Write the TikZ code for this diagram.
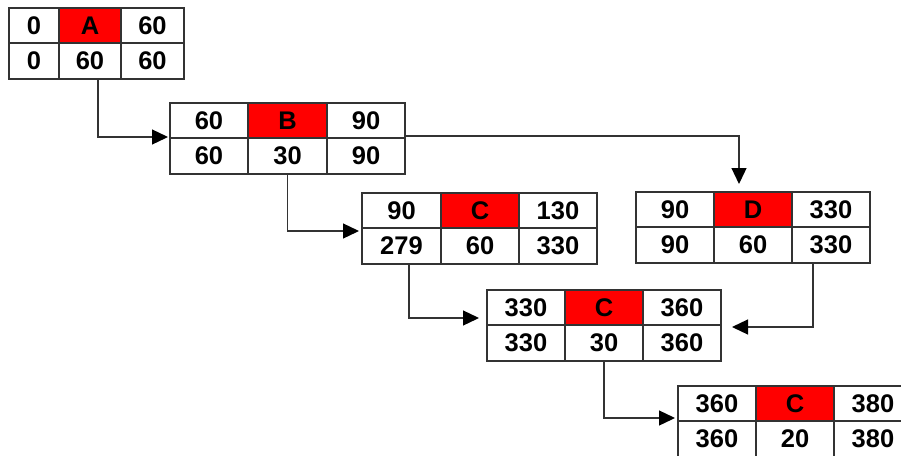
\documentclass[tikz,border=0pt]{standalone}
\usepackage{fontspec}
\setmainfont{Liberation Sans}
\usetikzlibrary{arrows.meta}
\definecolor{linec}{HTML}{333333}
\definecolor{keyred}{HTML}{FF0000}
\tikzset{
  cell/.style={draw=linec, line width=1.3pt, inner sep=0pt, outer sep=0pt,
    anchor=north west, minimum height=35pt,
    font=\bfseries\fontsize{25.5}{25.5}\selectfont},
  lowcell/.style={cell, minimum height=36pt},
  keycell/.style={cell, fill=keyred},
  link/.style={draw=linec, line width=1.3pt,
    -{Triangle[length=16pt,width=15pt,color=black]}},
}
% top row of a block: name, top-left corner, three widths, three entries
\newcommand\blocktop[8]{%
  \node[cell, minimum width=#3pt] (#1-11) at (#2) {#6};
  \node[keycell, minimum width=#4pt] (#1-12) at (#1-11.north east) {#7};
  \node[cell, minimum width=#5pt] (#1-13) at (#1-12.north east) {#8};
}
% bottom row of a block: name, three widths, three entries
\newcommand\blockbot[7]{%
  \node[lowcell, minimum width=#2pt] (#1-21) at (#1-11.south west) {#5};
  \node[lowcell, minimum width=#3pt] (#1-22) at (#1-21.north east) {#6};
  \node[lowcell, minimum width=#4pt] (#1-23) at (#1-22.north east) {#7};
}
\begin{document}
\begin{tikzpicture}[x=1pt, y=-1pt]
  \useasboundingbox (0,0) rectangle (901,455);
  \begin{scope}
    \clip (0,0) rectangle (901,455);

    \blocktop{A}{9,8}{50}{62}{63}{0}{A}{60}
    \blockbot{A}{50}{62}{63}{0}{60}{60}

    \blocktop{B}{170,103}{78}{79}{78}{60}{B}{90}
    \blockbot{B}{78}{79}{78}{60}{30}{90}

    \blocktop{C1}{362,193}{79}{78}{78}{90}{C}{130}
    \blockbot{C1}{79}{78}{78}{279}{60}{330}

    \blocktop{D}{636,192}{78}{78}{78}{90}{D}{330}
    \blockbot{D}{78}{78}{78}{90}{60}{330}

    \blocktop{C2}{487,290}{78}{78}{78}{330}{C}{360}
    \blockbot{C2}{78}{78}{78}{330}{30}{360}

    \blocktop{C3}{678,386}{78}{78}{78}{360}{C}{380}
    \blockbot{C3}{78}{78}{78}{360}{20}{380}

    % connectors between the blocks
    \draw[link, shorten >=2pt] ([xshift=8pt]A-22.south) |- ([yshift=1pt]B-21.north west);
    \draw[link, shorten >=8pt] ([yshift=2pt]B-23.north east) -| ([xshift=-14pt]D-12.north);
    \draw[link, shorten >=3pt] (B-22.south) |- ([yshift=-3pt]C1-21.north west);
    \draw[link, shorten >=8pt] ([xshift=7.5pt]C1-21.south) |- ([yshift=7pt]C2-21.north west);
    \draw[link, shorten >=11pt] ([xshift=-18pt]D-23.south) |- ([yshift=-2pt]C2-23.north east);
    \draw[link, shorten >=3pt] (C2-22.south) |- ([yshift=3pt]C3-21.north west);
  \end{scope}
\end{tikzpicture}
\end{document}
